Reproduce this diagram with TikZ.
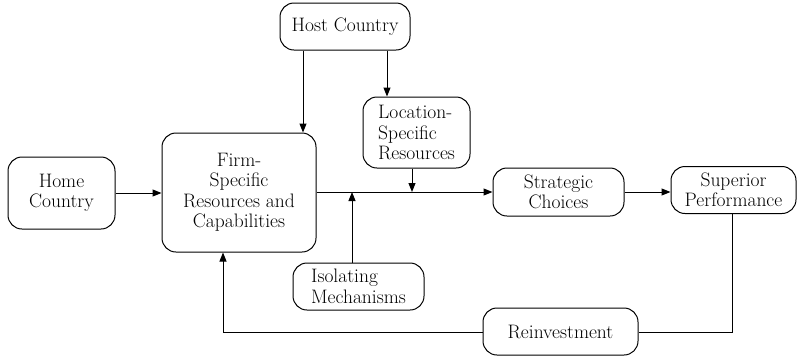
\documentclass[tikz,border=0pt]{standalone}
\usetikzlibrary{arrows.meta}
\begin{document}
\begin{tikzpicture}[x=1pt,y=-1pt,
  box/.style={draw, line width=1pt, rounded corners=14pt, inner sep=0pt,
    font=\fontsize{19.5}{20.5}\selectfont},
  conn/.style={line width=1pt},
  arr/.style={conn, -{Triangle[length=9pt,width=7pt]}}]
\useasboundingbox (0,0) rectangle (797,360);
\node[box, minimum width=107pt, minimum height=72pt, align=center] (home) at (61.5,193) {Home\\Country};
\node[box, minimum width=154pt, minimum height=119pt, align=center] (firm) at (239,192.5) {Firm-\\Specific\\Resources and\\Capabilities};
\node[box, minimum width=130pt, minimum height=47pt, align=center] (host) at (345,26.5) {Host Country};
\node[box, minimum width=107pt, minimum height=71pt, align=left] (loc) at (416.5,132.5) {Location-\\Specific\\Resources};
\node[box, minimum width=131pt, minimum height=47pt, align=left] (iso) at (358.5,286.5) {Isolating\\Mechanisms};
\node[box, minimum width=131pt, minimum height=48pt, align=center] (strat) at (558.5,192) {Strategic\\Choices};
\node[box, minimum width=125pt, minimum height=47pt, align=center] (sup) at (733.5,190) {Superior\\Performance};
\node[box, minimum width=155pt, minimum height=47pt, align=center] (reinv) at (560.5,331.5) {Reinvestment};
\coordinate (xh) at (303,0);
\coordinate (xl) at (387,0);
\coordinate (xd) at (412,0);
\coordinate (xi) at (352,0);
\coordinate (xs) at (732,0);
\coordinate (xf) at (223,0);
\coordinate (yl) at (0,332);
\draw[arr] (home.east) -- (firm.west |- home.east);
\draw[arr] (host.south -| xh) -- (firm.north -| xh);
\draw[arr] (host.south -| xl) -- (loc.north -| xl);
\draw[arr] (firm.east |- strat.west) -- (strat.west);
\draw[arr] (loc.south -| xd) -- (xd |- strat.west);
\draw[arr] (iso.north -| xi) -- (xi |- strat.west);
\draw[arr] (strat.east) -- (sup.west |- strat.east);
\draw[conn] (sup.south -| xs) -- (xs |- yl) -- (reinv.east |- yl);
\draw[arr] (reinv.west |- yl) -- (xf |- yl) -- (firm.south -| xf);
\end{tikzpicture}
\end{document}
